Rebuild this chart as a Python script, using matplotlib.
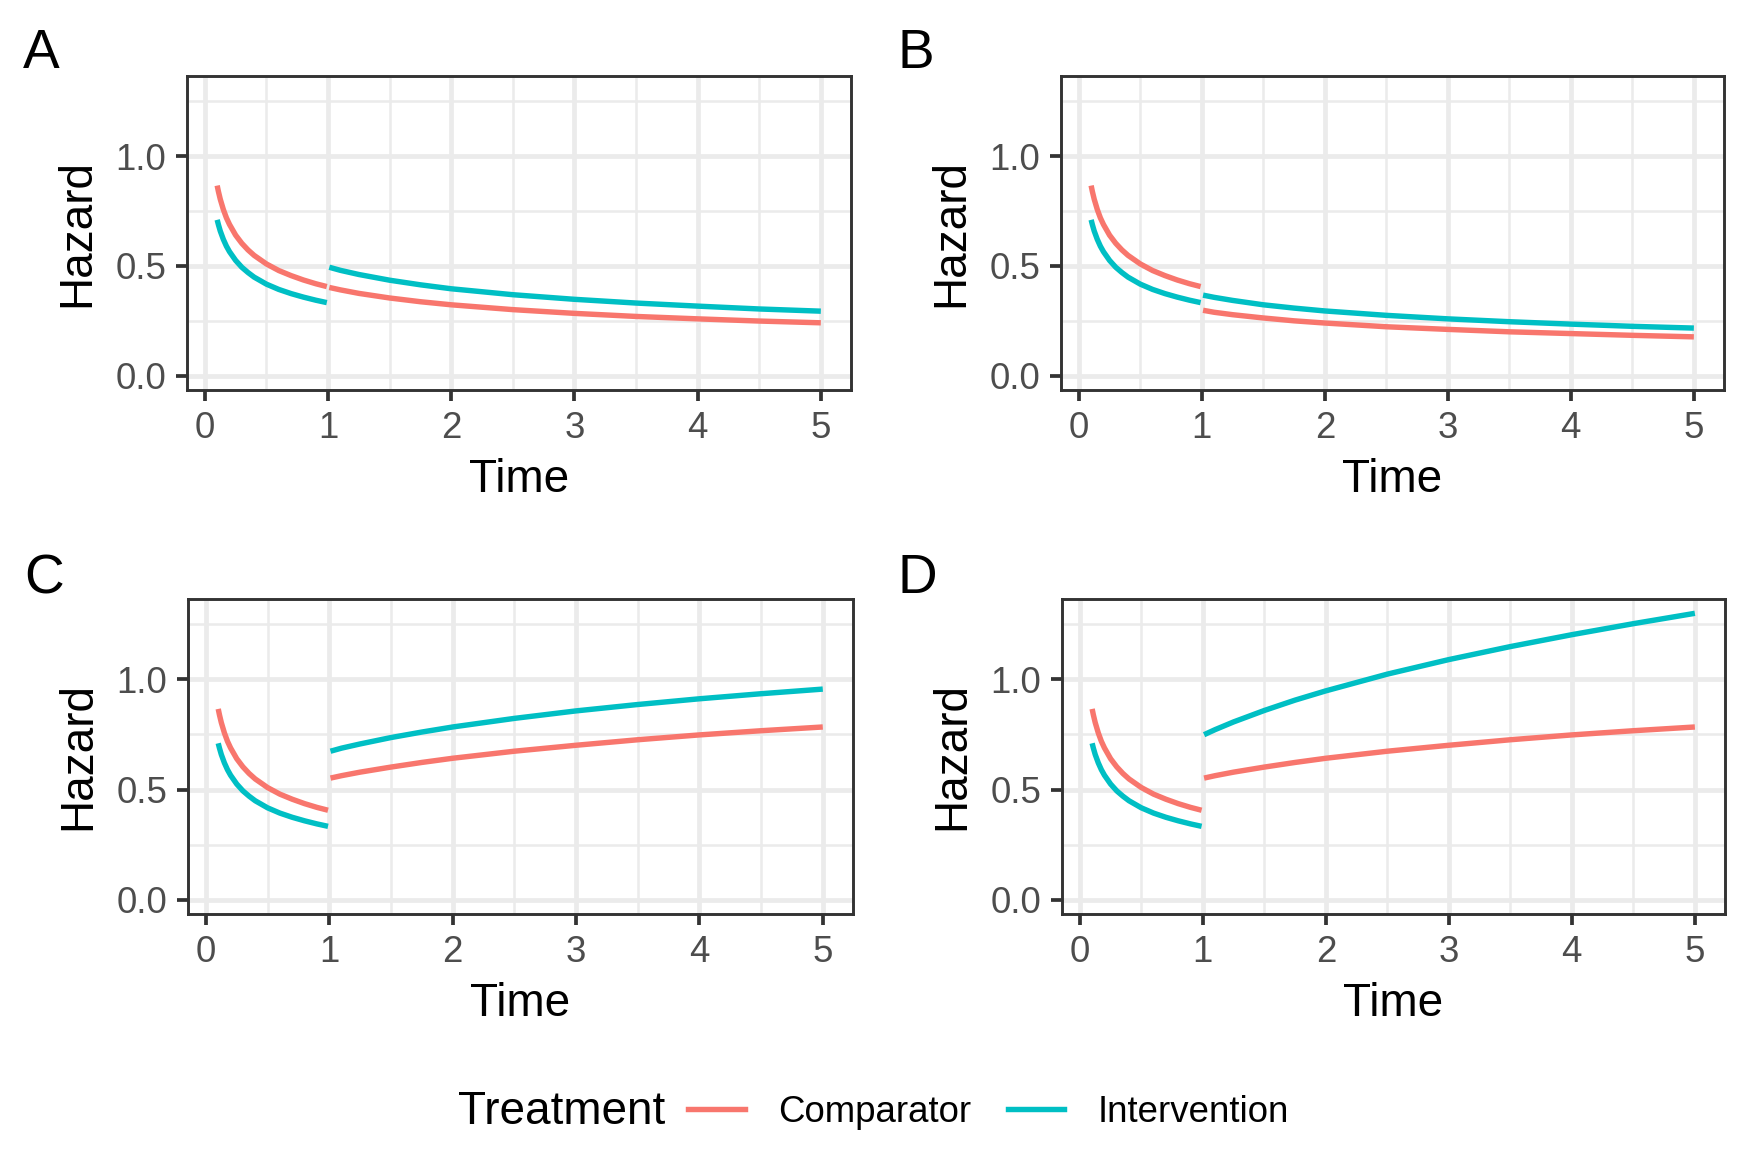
import matplotlib.pyplot as plt
from matplotlib.lines import Line2D
from matplotlib.ticker import MultipleLocator

plt.rcParams["font.family"] = ["Liberation Sans", "DejaVu Sans"]

RED = "#F8766D"
TEAL = "#00BFC4"

# time points (hazards are drawn in two pieces, split at t = 1)
t_early = [0.1, 0.11, 0.125, 0.15, 0.175, 0.2, 0.25, 0.3, 0.35, 0.4, 0.5, 0.6, 0.7, 0.8, 0.9, 0.99]
t_late = [1.01, 1.1, 1.25, 1.5, 1.75, 2, 2.5, 3, 3.5, 4, 4.5, 5]

# first year is the same in every panel
comp_early = [0.866, 0.839, 0.804, 0.757, 0.719, 0.689, 0.640, 0.603, 0.573, 0.548,
              0.509, 0.479, 0.456, 0.436, 0.419, 0.406]
int_early = [0.710, 0.688, 0.659, 0.621, 0.590, 0.565, 0.525, 0.494, 0.470, 0.449,
             0.417, 0.393, 0.374, 0.358, 0.344, 0.333]

a_comp_late = [0.402, 0.391, 0.375, 0.354, 0.337, 0.323, 0.301, 0.284, 0.270, 0.259, 0.249, 0.241]
a_int_late = [0.494, 0.480, 0.461, 0.435, 0.414, 0.396, 0.369, 0.348, 0.331, 0.317, 0.304, 0.294]

b_comp_late = [0.298, 0.289, 0.278, 0.263, 0.250, 0.240, 0.223, 0.211, 0.200, 0.192, 0.184, 0.177]
b_int_late = [0.367, 0.357, 0.343, 0.323, 0.308, 0.295, 0.275, 0.259, 0.246, 0.235, 0.225, 0.217]

c_comp_late = [0.552, 0.563, 0.579, 0.602, 0.623, 0.642, 0.674, 0.701, 0.726, 0.748, 0.767, 0.784]
c_int_late = [0.674, 0.688, 0.707, 0.736, 0.761, 0.784, 0.823, 0.857, 0.886, 0.912, 0.935, 0.956]

d_comp_late = [0.552, 0.563, 0.579, 0.602, 0.623, 0.642, 0.674, 0.701, 0.726, 0.748, 0.767, 0.784]
d_int_late = [0.749, 0.772, 0.807, 0.859, 0.906, 0.948, 1.024, 1.090, 1.149, 1.203, 1.253, 1.300]

tags = ["A", "B", "C", "D"]
late = [(a_comp_late, a_int_late), (b_comp_late, b_int_late),
        (c_comp_late, c_int_late), (d_comp_late, d_int_late)]

W, H = 1747, 1165
fig = plt.figure(figsize=(W / 300, H / 300), dpi=300)

# axes boxes in pixels: left, top, right, bottom
boxes = [(187, 76, 851, 390), (1061, 76, 1724, 390),
         (188, 599, 853, 914), (1062, 599, 1725, 914)]
tag_pos = [(23, 68), (898, 68), (24, 593), (898, 593)]

for i, (l, t, r, b) in enumerate(boxes):
    ax = fig.add_axes([l / W, 1 - b / H, (r - l) / W, (b - t) / H])
    comp_late, int_late = late[i]
    kw = dict(lw=1.3, solid_capstyle="butt", solid_joinstyle="round", zorder=3)
    ax.plot(t_early, comp_early, color=RED, **kw)
    ax.plot(t_late, comp_late, color=RED, **kw)
    ax.plot(t_early, int_early, color=TEAL, **kw)
    ax.plot(t_late, int_late, color=TEAL, **kw)

    ax.set_xlim(-0.145, 5.245)
    ax.set_ylim(-0.065, 1.365)
    ax.xaxis.set_major_locator(MultipleLocator(1))
    ax.xaxis.set_minor_locator(MultipleLocator(0.5))
    ax.set_yticks([0, 0.5, 1.0])
    ax.set_yticklabels(["0.0", "0.5", "1.0"])
    ax.yaxis.set_minor_locator(MultipleLocator(0.25))
    ax.grid(which="major", color="#EBEBEB", lw=1.15)
    ax.grid(which="minor", color="#EBEBEB", lw=0.6)
    ax.set_axisbelow(True)
    for s in ax.spines.values():
        s.set_color("#333333")
        s.set_linewidth(0.7)
    ax.tick_params(which="major", length=2.75, width=0.9, color="#333333",
                   labelsize=8.8, labelcolor="#4D4D4D", pad=2.2)
    ax.tick_params(which="minor", length=0)
    ax.set_xlabel("Time", fontsize=11, labelpad=3)
    ax.set_ylabel("Hazard", fontsize=11, labelpad=4)

    fig.text(tag_pos[i][0] / W, 1 - tag_pos[i][1] / H, tags[i],
             fontsize=13.2, ha="left", va="baseline")

# legend along the bottom, title on the left as in ggplot
fig.text(458 / W, 1 - 1112 / H, "Treatment", fontsize=11, ha="left", va="center")
handles = [Line2D([], [], color=RED, lw=1.3), Line2D([], [], color=TEAL, lw=1.3)]
fig.legend(handles, ["Comparator", "Intervention"], loc="center left",
           bbox_to_anchor=(688 / W, 1 - 1112 / H), ncol=2, frameon=False,
           fontsize=8.8, handlelength=1.55, handletextpad=0.9,
           columnspacing=1.0, borderpad=0, borderaxespad=0)

fig.savefig("out.png", dpi=300, facecolor="white")
